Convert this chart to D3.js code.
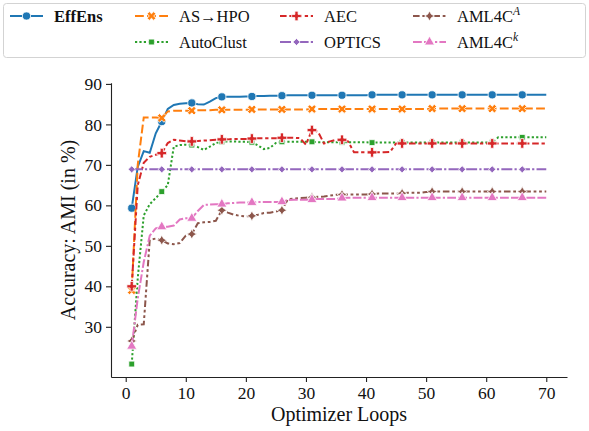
<!DOCTYPE html>
<html>
<head>
<meta charset="utf-8">
<script src="https://cdn.jsdelivr.net/npm/d3@7"></script>
<style>
  body { margin: 0; background: #fff; }
  svg text { font-family: "Liberation Serif", "DejaVu Serif", serif; fill: #111; }
</style>
</head>
<body>
<svg id="chart" width="589" height="431"></svg>
<script>
// optimizer loops 1..70
var loops = d3.range(1, 71);

var effEns = [59.3, 69.5, 73.4, 73.0, 77.8, 80.7, 83.8, 84.8, 85.1, 85.2,
  85.3, 85.0, 84.9, 85.6, 86.5, 86.8, 86.8, 86.8, 86.8, 86.9,
  86.9, 87.0, 87.0, 87.1, 87.1, 87.1, 87.2, 87.2, 87.2, 87.2,
  87.2, 87.2, 87.2, 87.2, 87.2, 87.2, 87.2, 87.2, 87.2, 87.2,
  87.3, 87.3, 87.3, 87.3, 87.3, 87.3, 87.3, 87.3, 87.3, 87.3,
  87.3, 87.3, 87.3, 87.3, 87.3, 87.3, 87.3, 87.3, 87.3, 87.3,
  87.3, 87.3, 87.3, 87.3, 87.3, 87.3, 87.3, 87.3, 87.3, 87.3];

var asHpo = [39.0, 70.0, 81.7, 81.7, 81.7, 81.6, 83.2, 83.4, 83.4, 83.4,
  83.4, 83.5, 83.5, 83.5, 83.6, 83.6, 83.6, 83.6, 83.6, 83.6,
  83.7, 83.7, 83.7, 83.7, 83.7, 83.7, 83.7, 83.7, 83.7, 83.7,
  83.8, 83.8, 83.8, 83.8, 83.8, 83.8, 83.8, 83.8, 83.8, 83.8,
  83.8, 83.8, 83.8, 83.8, 83.8, 83.8, 83.8, 83.8, 83.8, 83.8,
  83.9, 83.9, 83.9, 83.9, 83.9, 83.9, 83.9, 83.9, 83.9, 83.9,
  83.9, 83.9, 83.9, 83.9, 83.9, 83.9, 83.9, 83.9, 83.9, 83.9];

var autoClust = [20.8, 42.0, 57.5, 60.3, 61.8, 63.4, 65.0, 74.5, 74.9, 75.0,
  74.9, 74.4, 73.7, 74.5, 75.4, 75.7, 75.8, 75.8, 75.7, 75.7,
  75.6, 74.8, 73.9, 74.2, 75.4, 75.7, 75.7, 75.7, 75.7, 75.7,
  75.7, 75.6, 75.6, 75.6, 75.6, 75.6, 75.6, 75.6, 75.6, 75.6,
  75.5, 75.5, 75.5, 75.5, 75.5, 75.5, 75.5, 75.5, 75.5, 75.5,
  75.5, 75.5, 75.5, 75.5, 75.5, 75.5, 75.5, 75.5, 75.5, 75.5,
  75.5, 76.8, 76.8, 76.8, 76.8, 76.8, 76.8, 76.8, 76.8, 76.8];

var aec = [40.0, 65.0, 70.5, 72.0, 72.5, 72.9, 75.4, 76.2, 76.0, 75.8,
  75.8, 75.9, 76.0, 76.1, 76.2, 76.3, 76.3, 76.4, 76.4, 76.4,
  76.5, 76.6, 76.6, 76.6, 76.6, 76.7, 76.7, 76.7, 76.6, 75.0,
  78.6, 78.2, 75.3, 75.8, 76.2, 76.2, 75.8, 73.1, 73.1, 73.1,
  73.1, 73.1, 73.1, 73.2, 75.3, 75.3, 75.3, 75.3, 75.3, 75.3,
  75.3, 75.3, 75.3, 75.3, 75.3, 75.3, 75.3, 75.3, 75.3, 75.3,
  75.3, 75.3, 75.3, 75.3, 75.3, 75.3, 75.3, 75.3, 75.3, 75.3];

var optics = [68.9, 68.9, 68.9, 68.9, 68.9, 68.9, 68.9, 68.9, 68.9, 68.9,
  68.9, 68.9, 68.9, 68.9, 68.9, 68.9, 68.9, 68.9, 68.9, 68.9,
  68.9, 68.9, 68.9, 68.9, 68.9, 68.9, 68.9, 68.9, 68.9, 68.9,
  68.9, 68.9, 68.9, 68.9, 68.9, 68.9, 68.9, 68.9, 68.9, 68.9,
  68.9, 68.9, 68.9, 68.9, 68.9, 68.9, 68.9, 68.9, 68.9, 68.9,
  68.9, 68.9, 68.9, 68.9, 68.9, 68.9, 68.9, 68.9, 68.9, 68.9,
  68.9, 68.9, 68.9, 68.9, 68.9, 68.9, 68.9, 68.9, 68.9, 68.9];

var aml4cA = [26.5, 30.5, 30.6, 51.5, 51.8, 51.4, 50.6, 50.4, 50.7, 52.5,
  52.9, 55.6, 55.8, 55.9, 56.2, 58.8, 58.2, 57.7, 57.4, 57.3,
  57.4, 57.7, 58.1, 58.2, 58.5, 58.8, 61.5, 61.7, 61.8, 61.9,
  62.0, 62.1, 62.2, 62.4, 62.6, 62.7, 62.7, 62.7, 62.7, 62.7,
  62.8, 62.9, 62.9, 62.9, 62.9, 63.0, 63.1, 63.1, 63.1, 63.3,
  63.4, 63.4, 63.4, 63.4, 63.4, 63.4, 63.4, 63.4, 63.4, 63.4,
  63.4, 63.4, 63.4, 63.4, 63.4, 63.4, 63.4, 63.4, 63.4, 63.4];

var aml4cK = [25.2, 37.0, 46.0, 52.5, 54.3, 54.7, 54.7, 55.0, 56.5, 56.8,
  56.8, 58.6, 60.1, 60.2, 60.3, 60.3, 60.5, 60.6, 60.7, 60.7,
  60.7, 60.8, 60.8, 60.8, 60.8, 60.9, 61.3, 61.4, 61.4, 61.4,
  61.4, 61.6, 61.6, 61.6, 61.6, 61.8, 61.9, 61.9, 61.9, 61.9,
  61.9, 61.9, 61.9, 61.9, 61.9, 61.9, 61.9, 61.9, 61.9, 61.9,
  61.9, 61.9, 61.9, 61.9, 61.9, 61.9, 61.9, 61.9, 61.9, 61.9,
  61.9, 61.9, 61.9, 61.9, 61.9, 61.9, 61.9, 61.9, 61.9, 61.9];

var xTicks = [0, 10, 20, 30, 40, 50, 60, 70];
var yTicks = [30, 40, 50, 60, 70, 80, 90];

// drawing order follows the legend
var series = [
  {name: "EffEns", values: effEns, color: "#1f77b4", dash: null, marker: "circle", bold: true},
  {name: "AS\u2192HPO", values: asHpo, color: "#ff7f0e", dash: "8.8,3.3", marker: "x"},
  {name: "AutoClust", values: autoClust, color: "#2ca02c", dash: "2.2,2.2", marker: "square"},
  {name: "AEC", values: aec, color: "#d62728", dash: "6.6,2.75,3.3,2.75", marker: "plus"},
  {name: "OPTICS", values: optics, color: "#9467bd", dash: "11,2.2,2.2,2.2", marker: "diamond"},
  {name: "AML4C", sup: "A", values: aml4cA, color: "#8c564b", dash: "6.6,2.75,2.75,2.75,2.75,2.75", marker: "star4"},
  {name: "AML4C", sup: "k", values: aml4cK, color: "#e377c2", dash: "8.8,2.2,8.8,2.2,2.2,2.2", marker: "triangle"}
];

var serif = '"Liberation Serif", "DejaVu Serif", serif';
var svg = d3.select("#chart");

var x = d3.scaleLinear().domain([-2.45, 73.45]).range([111, 567]);
var y = d3.scaleLinear().domain([17.6, 90.3]).range([377, 82.7]);

function star4(r) {
  var p = [], ri = r * 0.5;
  for (var i = 0; i < 8; i++) {
    var a = Math.PI / 4 * i - Math.PI / 2;
    var rr = (i % 2 == 0) ? r : ri;
    p.push([rr * Math.cos(a), rr * Math.sin(a)]);
  }
  return "M" + p.join("L") + "Z";
}

function markerPath(kind) {
  if (kind == "circle") return d3.symbol().type(d3.symbolCircle).size(52)();
  if (kind == "x") return d3.symbol().type(d3.symbolCross).size(48)();
  if (kind == "plus") return d3.symbol().type(d3.symbolCross).size(52)();
  if (kind == "square") return d3.symbol().type(d3.symbolSquare).size(34)();
  if (kind == "diamond") return d3.symbol().type(d3.symbolSquare).size(26)();
  if (kind == "triangle") return d3.symbol().type(d3.symbolTriangle).size(44)();
  if (kind == "star4") return star4(5);
}

function markerRot(kind) {
  return (kind == "x" || kind == "diamond") ? " rotate(45)" : "";
}

// axes
var xAxis = svg.append("g")
  .attr("transform", "translate(0,377)")
  .call(d3.axisBottom(x).tickValues(xTicks).tickSize(5).tickSizeOuter(0).tickPadding(5));
var yAxis = svg.append("g")
  .attr("transform", "translate(111,0)")
  .call(d3.axisLeft(y).tickValues(yTicks).tickSize(5).tickSizeOuter(0).tickPadding(4));

[xAxis, yAxis].forEach(function(a) {
  a.attr("font-family", serif);
  a.select(".domain").attr("stroke", "#222").attr("stroke-width", 1.1);
  a.selectAll(".tick line").attr("stroke", "#222").attr("stroke-width", 1.1);
  a.selectAll(".tick text")
    .style("font-family", serif)
    .style("font-size", "17.5px")
    .attr("fill", "#111");
});

svg.append("text")
  .attr("x", 339).attr("y", 421)
  .attr("text-anchor", "middle")
  .style("font-family", serif)
  .style("font-size", "20px")
  .text("Optimizer Loops");

svg.append("text")
  .attr("transform", "translate(75,230) rotate(-90)")
  .attr("text-anchor", "middle")
  .style("font-family", serif)
  .style("font-size", "20px")
  .text("Accuracy: AMI (in %)");

// lines and markers
var line = d3.line()
  .x(function(d, i) { return x(loops[i]); })
  .y(function(d) { return y(d); });

series.forEach(function(s) {
  var g = svg.append("g");
  g.append("path")
    .attr("d", line(s.values))
    .attr("fill", "none")
    .attr("stroke", s.color)
    .attr("stroke-width", 2)
    .attr("stroke-dasharray", s.dash);

  var marks = s.values.map(function(v, i) { return [loops[i], v]; })
    .filter(function(d, i) { return i % 5 == 0; });

  g.selectAll("path.m")
    .data(marks)
    .enter().append("path")
    .attr("class", "m")
    .attr("d", markerPath(s.marker))
    .attr("transform", function(d) { return "translate(" + x(d[0]) + "," + y(d[1]) + ")" + markerRot(s.marker); })
    .attr("fill", s.color)
    .attr("stroke", "#fff")
    .attr("stroke-width", 0.8);
});

// legend
var legend = svg.append("g");
legend.append("rect")
  .attr("x", 3.5).attr("y", 3.5)
  .attr("width", 582).attr("height", 54)
  .attr("rx", 3)
  .attr("fill", "#fff")
  .attr("stroke", "#d3d3d3")
  .attr("stroke-width", 1);

var slots = [[10, 16], [135, 16], [135, 42], [280, 16], [280, 42], [413, 16], [413, 42]];

series.forEach(function(s, i) {
  var lx = slots[i][0], ly = slots[i][1];
  var item = legend.append("g");
  item.append("line")
    .attr("x1", lx).attr("x2", lx + 33)
    .attr("y1", ly).attr("y2", ly)
    .attr("stroke", s.color)
    .attr("stroke-width", 2)
    .attr("stroke-dasharray", s.dash);
  item.append("path")
    .attr("d", markerPath(s.marker))
    .attr("transform", "translate(" + (lx + 16.5) + "," + ly + ")" + markerRot(s.marker))
    .attr("fill", s.color)
    .attr("stroke", "#fff")
    .attr("stroke-width", 0.8);
  var t = item.append("text")
    .attr("x", lx + 44).attr("y", ly + 5.5)
    .style("font-family", serif)
    .style("font-size", "16.5px");
  if (s.bold) t.style("font-weight", "bold");
  t.append("tspan").text(s.name);
  if (s.sup) {
    t.append("tspan")
      .attr("dy", -7)
      .style("font-size", "11.5px")
      .style("font-style", "italic")
      .text(s.sup);
  }
});
</script>
</body>
</html>
